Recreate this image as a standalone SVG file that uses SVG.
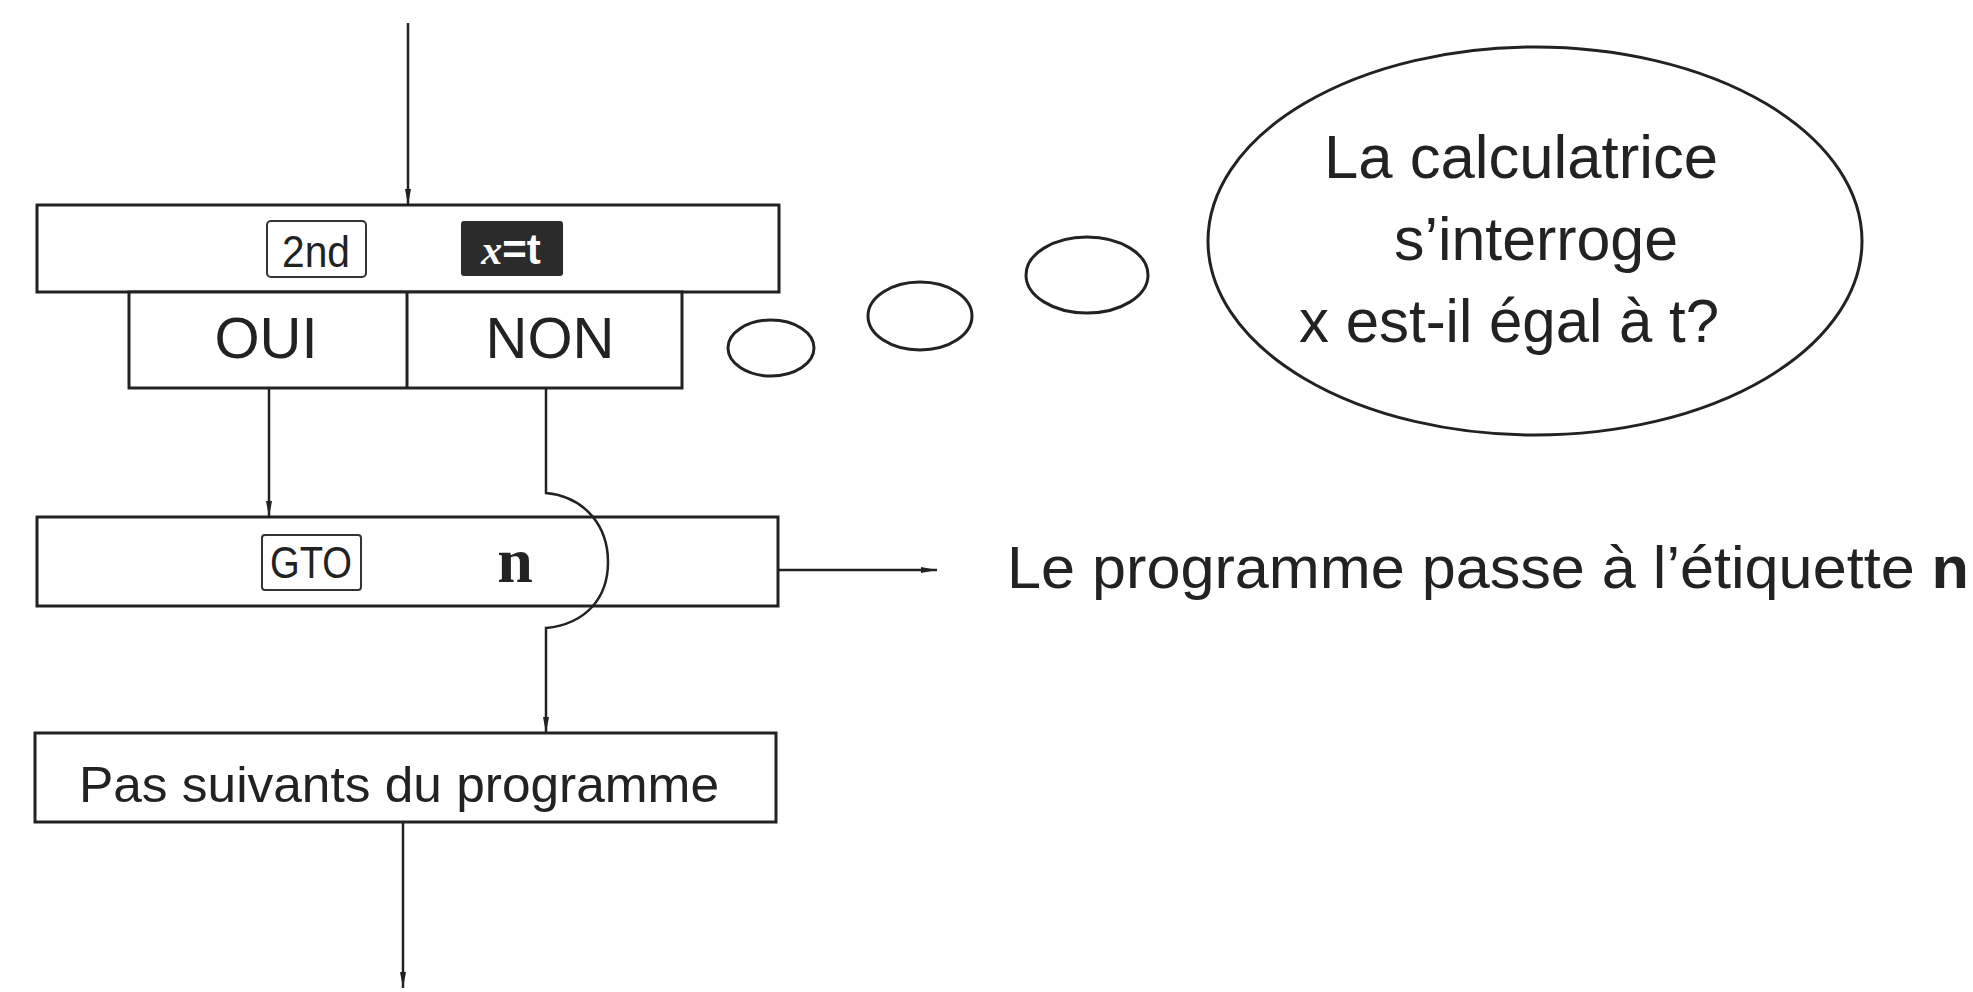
<svg xmlns="http://www.w3.org/2000/svg" width="1973" height="992" viewBox="0 0 1973 992">
<defs>
<style>
.box{fill:#fff;stroke:#222;stroke-width:3}
.key{fill:#fff;stroke:#333;stroke-width:2}
.keyd{fill:#2b2b2b;stroke:#2b2b2b;stroke-width:2}
.ln{fill:none;stroke:#222;stroke-width:2.5}
.bub{fill:#fff;stroke:#222;stroke-width:3}
.t{font-family:"Liberation Sans",Arial,sans-serif;fill:#222}
</style>
<marker id="ah" viewBox="0 0 16 8" refX="16" refY="4" markerWidth="16" markerHeight="8" markerUnits="userSpaceOnUse" orient="auto">
<path d="M0,1 L16,4 L0,7 Z" fill="#222"/>
</marker>
</defs>
<rect width="1973" height="992" fill="#fff"/>

<g id="node-test">
<rect class="box" x="37" y="205" width="742" height="87"/>
<rect class="key" x="267" y="221" width="99" height="56" rx="4"/>
<text class="t" x="316" y="267" font-size="44" text-anchor="middle" textLength="68" lengthAdjust="spacingAndGlyphs">2nd</text>
<rect class="keyd" x="462" y="222" width="100" height="53" rx="2"/>
<text x="511" y="264" font-size="42" font-weight="bold" text-anchor="middle" fill="#fff" font-family="Liberation Sans, sans-serif"><tspan font-family="Liberation Serif, serif" font-style="italic">x</tspan>=t</text>
</g>

<g id="node-ouinon">
<rect class="box" x="129" y="292" width="553" height="96"/>
<line class="box" x1="407" y1="292" x2="407" y2="388"/>
<text class="t" x="266" y="358" font-size="58" text-anchor="middle">OUI</text>
<text class="t" x="550" y="358" font-size="58" text-anchor="middle">NON</text>
</g>

<g id="node-gto">
<rect class="box" x="37" y="517" width="741" height="89"/>
<rect class="key" x="262" y="535" width="99" height="55" rx="3"/>
<text class="t" x="311" y="578" font-size="44" text-anchor="middle" textLength="82" lengthAdjust="spacingAndGlyphs">GTO</text>
<text x="515" y="582" font-size="64" font-weight="bold" text-anchor="middle" fill="#222" font-family="Liberation Serif, serif">n</text>
</g>

<g id="node-next">
<rect class="box" x="35" y="733" width="741" height="89"/>
<text class="t" x="399" y="802" font-size="50" text-anchor="middle" textLength="640" lengthAdjust="spacingAndGlyphs">Pas suivants du programme</text>
</g>

<g id="node-label">
<text class="t" x="1007" y="588" font-size="60" textLength="962" lengthAdjust="spacingAndGlyphs">Le programme passe à l’étiquette <tspan font-weight="bold">n</tspan></text>
</g>

<g id="node-bubble">
<ellipse class="bub" cx="771" cy="348" rx="43" ry="28"/>
<ellipse class="bub" cx="920" cy="316" rx="52" ry="34"/>
<ellipse class="bub" cx="1087" cy="275" rx="61" ry="38"/>
<ellipse class="bub" cx="1535" cy="241" rx="327" ry="194"/>
<text class="t" x="1521" y="178" font-size="62" text-anchor="middle" textLength="394" lengthAdjust="spacingAndGlyphs">La calculatrice</text>
<text class="t" x="1536" y="260" font-size="62" text-anchor="middle" textLength="284" lengthAdjust="spacingAndGlyphs">s’interroge</text>
<text class="t" x="1509" y="342" font-size="62" text-anchor="middle" textLength="420" lengthAdjust="spacingAndGlyphs">x est-il égal à t?</text>
</g>

<g id="connectors">
<line class="ln" x1="408" y1="23" x2="408" y2="205" marker-end="url(#ah)"/>
<line class="ln" x1="269" y1="388" x2="269" y2="517" marker-end="url(#ah)"/>
<path class="ln" d="M546,388 L546,493 C586,497 608,527 608,562 C608,598 586,624 546,628 L546,733" marker-end="url(#ah)"/>
<line class="ln" x1="778" y1="570" x2="937" y2="570" marker-end="url(#ah)"/>
<line class="ln" x1="403" y1="822" x2="403" y2="988" marker-end="url(#ah)"/>
</g>
</svg>
